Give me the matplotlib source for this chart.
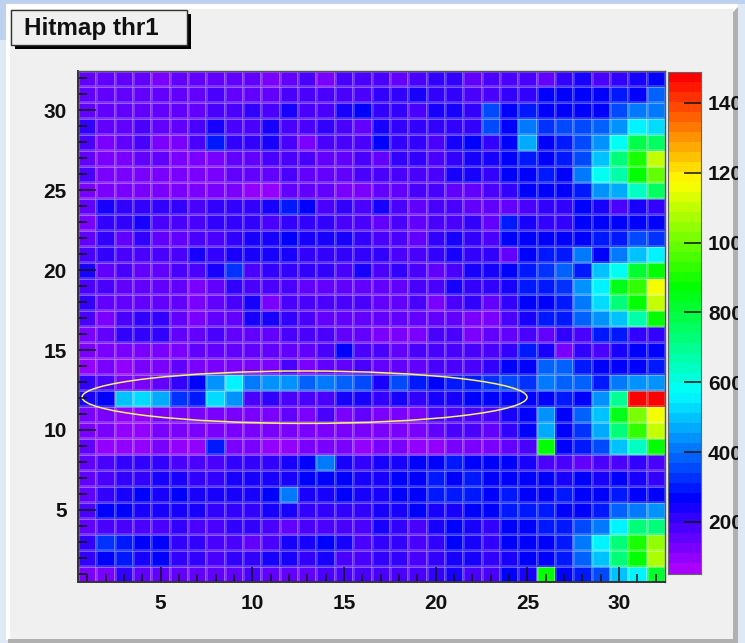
import numpy as np
from matplotlib import pyplot as plt
from matplotlib.colors import ListedColormap, hsv_to_rgb
from matplotlib.patches import Ellipse, Polygon, Rectangle
from matplotlib.transforms import Bbox

# hit counts, one list per row, channel y = 32 at the top
row32 = [140, 140, 150, 150, 115, 150, 145, 150, 160, 140, 130, 145, 180, 125, 190, 180, 170, 165, 170, 200, 200, 150, 190, 190, 190, 150, 200, 240, 190, 210, 245, 255]
row31 = [140, 155, 165, 165, 160, 160, 165, 170, 165, 155, 150, 170, 180, 175, 190, 185, 200, 210, 225, 200, 200, 185, 180, 220, 220, 260, 260, 270, 265, 290, 280, 380]
row30 = [150, 160, 160, 165, 165, 160, 165, 170, 195, 200, 195, 225, 190, 180, 235, 260, 205, 210, 170, 225, 225, 220, 340, 260, 290, 260, 270, 270, 280, 340, 410, 400]
row29 = [220, 150, 160, 170, 165, 165, 170, 250, 190, 185, 225, 185, 175, 215, 175, 165, 230, 210, 200, 200, 210, 220, 340, 260, 420, 320, 350, 340, 370, 440, 560, 530]
row28 = [190, 110, 160, 190, 125, 125, 185, 300, 200, 220, 245, 170, 125, 180, 175, 170, 255, 215, 215, 170, 225, 260, 220, 255, 460, 270, 310, 360, 450, 580, 790, 760]
row27 = [140, 115, 120, 150, 155, 115, 110, 110, 140, 150, 185, 170, 175, 160, 160, 170, 160, 210, 215, 195, 220, 230, 225, 280, 290, 270, 300, 360, 500, 740, 890, 1110]
row26 = [180, 115, 115, 115, 125, 125, 115, 120, 165, 155, 140, 175, 150, 150, 160, 180, 175, 185, 180, 190, 235, 235, 210, 265, 270, 290, 275, 400, 590, 670, 870, 1000]
row25 = [120, 110, 110, 110, 115, 120, 110, 110, 115, 105, 100, 140, 145, 140, 130, 125, 140, 140, 175, 170, 160, 150, 190, 220, 265, 256, 265, 300, 430, 460, 640, 770]
row24 = [150, 235, 200, 210, 210, 210, 190, 200, 215, 215, 240, 305, 260, 175, 220, 175, 240, 185, 150, 175, 170, 165, 160, 150, 195, 205, 215, 258, 225, 195, 230, 220]
row23 = [120, 200, 210, 230, 195, 195, 185, 200, 205, 215, 190, 215, 220, 215, 180, 185, 145, 190, 145, 185, 180, 205, 165, 310, 225, 215, 210, 256, 256, 270, 260, 265]
row22 = [150, 200, 160, 200, 160, 160, 190, 195, 210, 225, 225, 260, 230, 230, 250, 210, 175, 170, 165, 210, 230, 200, 190, 258, 260, 270, 270, 262, 300, 310, 340, 320]
row21 = [170, 200, 190, 190, 180, 180, 225, 215, 245, 250, 245, 240, 215, 210, 205, 200, 215, 190, 170, 210, 240, 205, 210, 165, 256, 300, 300, 410, 280, 400, 490, 560]
row20 = [240, 150, 195, 160, 145, 195, 190, 225, 320, 170, 210, 205, 205, 215, 175, 250, 170, 220, 170, 160, 195, 240, 240, 256, 310, 320, 370, 300, 490, 590, 810, 880]
row19 = [190, 190, 165, 160, 155, 150, 115, 150, 220, 170, 180, 170, 165, 160, 160, 160, 150, 150, 185, 190, 225, 200, 200, 230, 300, 290, 320, 430, 560, 830, 920, 1170]
row18 = [200, 145, 150, 150, 150, 150, 110, 150, 190, 235, 130, 180, 180, 170, 170, 170, 150, 150, 180, 130, 190, 210, 165, 200, 256, 270, 300, 410, 530, 720, 880, 1090]
row17 = [170, 120, 170, 200, 200, 160, 115, 140, 165, 235, 225, 215, 170, 160, 150, 145, 150, 150, 150, 140, 140, 135, 135, 175, 225, 310, 300, 370, 430, 490, 680, 880]
row16 = [130, 155, 205, 210, 220, 150, 150, 185, 160, 150, 155, 180, 170, 170, 150, 160, 135, 135, 130, 180, 180, 130, 160, 165, 170, 155, 200, 195, 300, 300, 215, 205]
row15 = [110, 130, 125, 125, 130, 125, 165, 155, 150, 155, 145, 160, 155, 170, 275, 185, 170, 140, 170, 180, 185, 185, 180, 220, 310, 235, 135, 220, 180, 230, 256, 262]
row14 = [105, 115, 90, 115, 115, 140, 135, 125, 125, 125, 135, 170, 130, 150, 160, 175, 150, 145, 165, 170, 180, 180, 200, 256, 256, 370, 390, 300, 256, 265, 270, 290]
row13 = [220, 190, 115, 120, 150, 210, 270, 440, 560, 400, 430, 450, 390, 420, 370, 350, 250, 360, 290, 262, 300, 290, 320, 340, 330, 420, 390, 370, 310, 410, 430, 450]
row12 = [240, 262, 490, 520, 480, 330, 290, 530, 450, 190, 200, 170, 170, 180, 235, 250, 210, 240, 215, 225, 235, 262, 262, 262, 262, 270, 290, 270, 440, 710, 1490, 1490]
row11 = [115, 130, 100, 100, 120, 110, 110, 110, 115, 115, 120, 140, 130, 190, 125, 150, 135, 130, 120, 170, 190, 170, 170, 235, 262, 430, 262, 370, 510, 840, 1010, 1150]
row10 = [120, 110, 105, 95, 115, 110, 110, 115, 110, 110, 120, 125, 130, 125, 125, 125, 120, 110, 110, 150, 170, 170, 165, 210, 262, 470, 270, 330, 460, 740, 930, 1110]
row09 = [150, 100, 95, 95, 135, 95, 100, 300, 110, 115, 105, 105, 110, 115, 110, 105, 110, 115, 105, 105, 110, 130, 135, 150, 190, 880, 258, 290, 350, 490, 640, 880]
row08 = [150, 175, 210, 200, 200, 195, 190, 195, 200, 215, 205, 230, 262, 420, 230, 200, 235, 240, 255, 280, 300, 262, 258, 258, 225, 180, 185, 155, 190, 180, 210, 185]
row07 = [160, 190, 220, 210, 230, 225, 220, 220, 230, 230, 240, 245, 256, 262, 265, 225, 245, 262, 262, 290, 262, 310, 280, 262, 270, 262, 240, 260, 240, 258, 230, 215]
row06 = [160, 220, 245, 262, 240, 262, 230, 225, 225, 230, 262, 410, 240, 240, 262, 225, 245, 262, 262, 285, 310, 290, 280, 300, 270, 270, 290, 280, 262, 300, 280, 280]
row05 = [170, 262, 262, 240, 225, 230, 225, 205, 205, 220, 230, 230, 220, 220, 215, 205, 240, 235, 258, 240, 240, 258, 258, 295, 290, 290, 262, 262, 310, 370, 400, 430]
row04 = [145, 190, 190, 170, 190, 200, 190, 190, 205, 205, 190, 155, 190, 190, 190, 190, 245, 220, 185, 230, 258, 225, 205, 256, 280, 300, 290, 340, 420, 560, 720, 720]
row03 = [210, 320, 290, 262, 258, 220, 200, 190, 190, 160, 190, 225, 240, 262, 225, 190, 210, 205, 185, 205, 258, 225, 205, 256, 262, 275, 300, 410, 565, 720, 910, 1030]
row02 = [200, 262, 310, 250, 262, 205, 200, 190, 210, 210, 240, 235, 200, 230, 190, 185, 200, 200, 190, 210, 240, 235, 210, 240, 262, 262, 290, 390, 490, 720, 880, 1060]
row01 = [110, 130, 200, 140, 140, 160, 150, 150, 160, 190, 160, 150, 165, 170, 190, 180, 180, 190, 190, 220, 225, 190, 170, 262, 240, 880, 280, 310, 360, 490, 560, 800]

rows = [row01, row02, row03, row04, row05, row06, row07, row08, row09, row10, row11,
        row12, row13, row14, row15, row16, row17, row18, row19, row20, row21, row22,
        row23, row24, row25, row26, row27, row28, row29, row30, row31, row32]

z_min = 52
z_max = 1490
x_ticks = [5, 10, 15, 20, 25, 30]
y_ticks = [5, 10, 15, 20, 25, 30]
z_ticks = [200, 400, 600, 800, 1000, 1200, 1400]

W, H = 745, 643
PANEL = '#f0f0f0'
FONT = 'Liberation Sans'


def px_axes(fig, left, top, right, bottom, **kw):
    # axes from pixel coords, y counted from the top like in the screenshot
    return fig.add_axes([left / W, 1 - bottom / H, (right - left) / W, (bottom - top) / H], **kw)


# ROOT rainbow palette: 50 steps, hue 280 -> 0
hues = np.linspace(280, 0, 50) / 360
palette = ListedColormap(hsv_to_rgb(np.column_stack([hues, np.ones(50), np.ones(50)])))

fig = plt.figure(figsize=(W / 100, H / 100), dpi=100, facecolor='#dfe8f5')

# canvas bevel
bg = fig.add_axes([0, 0, 1, 1])
bg.set_xlim(0, W)
bg.set_ylim(H, 0)
bg.axis('off')
bg.add_patch(Rectangle((0, 0), W, 3.5, fc='#bcd2f0', ec='none'))
bg.add_patch(Rectangle((0, 0), 6, 40, fc='#bcd2f0', ec='none'))
bg.add_patch(Rectangle((6, 3.5), 732, 636, fc='white', ec='none'))
bg.add_patch(Rectangle((10, 8.5), 723, 630, fc=PANEL, ec='none'))
bg.add_patch(Polygon([(733, 12), (738, 7), (738, 643), (733, 643)], fc='#b0b0b0', ec='none'))
bg.add_patch(Rectangle((8, 639), 730, 4, fc='#b0b0b0', ec='none'))

# title box with drop shadow
bg.add_patch(Rectangle((15, 14), 176, 35, fc='black', ec='none'))
bg.add_patch(Rectangle((11, 10), 176, 35, fc=PANEL, ec='#333333', lw=1))
bg.text(24, 29, 'Hitmap thr1', fontsize=17.5, fontweight='bold', family=FONT, va='center', ha='left', color='#111111')

# hit map
ax = px_axes(fig, 78, 70.5, 665, 581.7)
edges = np.arange(0.5, 33)
ax.pcolormesh(edges, edges, np.array(rows), cmap=palette, vmin=z_min, vmax=z_max,
              edgecolors=(1, 1, 1, 0.2), linewidth=0.8)
ax.set_xlim(0.5, 32.5)
ax.set_ylim(0.5, 32.5)
ax.set_xticks(x_ticks)
ax.set_yticks(y_ticks)
ax.set_xticks(np.arange(1, 33), minor=True)
ax.set_yticks(np.arange(1, 33), minor=True)
ax.tick_params(axis='x', which='major', direction='in', length=10.5, width=1.1, pad=9, color='#111111')
ax.tick_params(axis='x', which='minor', direction='in', length=5.5, width=1.1, color='#111111')
ax.tick_params(axis='y', which='major', direction='in', length=13, width=1.1, pad=8, color='#111111')
ax.tick_params(axis='y', which='minor', direction='in', length=6.5, width=1.1, color='#111111')
for lab in ax.get_xticklabels() + ax.get_yticklabels():
    lab.set_fontsize(15)
    lab.set_fontweight('bold')
    lab.set_family(FONT)
    lab.set_color('#111111')
for side in ['left', 'bottom']:
    ax.spines[side].set_linewidth(1.4)
    ax.spines[side].set_color('#333333')
for side in ['top', 'right']:
    ax.spines[side].set_linewidth(1.0)
    ax.spines[side].set_color('#555555')

# the drawn ellipse around rows 12-13
ax.add_patch(Ellipse((12.85, 12.05), 24.26, 3.28, fc='none', ec='#f7f26a', lw=1.1))

# colour scale
cax = px_axes(fig, 668, 71.5, 701, 573.5, zorder=2)
levels = np.linspace(z_min, z_max, 51)
cax.pcolormesh([0, 1], levels, ((levels[:-1] + levels[1:]) / 2).reshape(-1, 1), cmap=palette,
               vmin=z_min, vmax=z_max)
cax.set_xlim(0, 1)
cax.set_ylim(z_min, z_max)
cax.set_xticks([])
cax.yaxis.tick_right()
cax.set_yticks(z_ticks)
cax.tick_params(axis='y', direction='in', length=12, width=1.1, pad=5, color='#111111')
clip = Bbox.from_extents(0, 0, 738, H)
for lab in cax.get_yticklabels():
    lab.set_fontsize(15)
    lab.set_fontweight('bold')
    lab.set_family(FONT)
    lab.set_color('#111111')
    # labels run off the pad in the original
    lab.set_clip_on(True)
    lab.set_clip_box(clip)
for side in cax.spines.values():
    side.set_linewidth(0.8)
    side.set_color('#666666')

fig.savefig('out.png', dpi=100, facecolor=fig.get_facecolor())
